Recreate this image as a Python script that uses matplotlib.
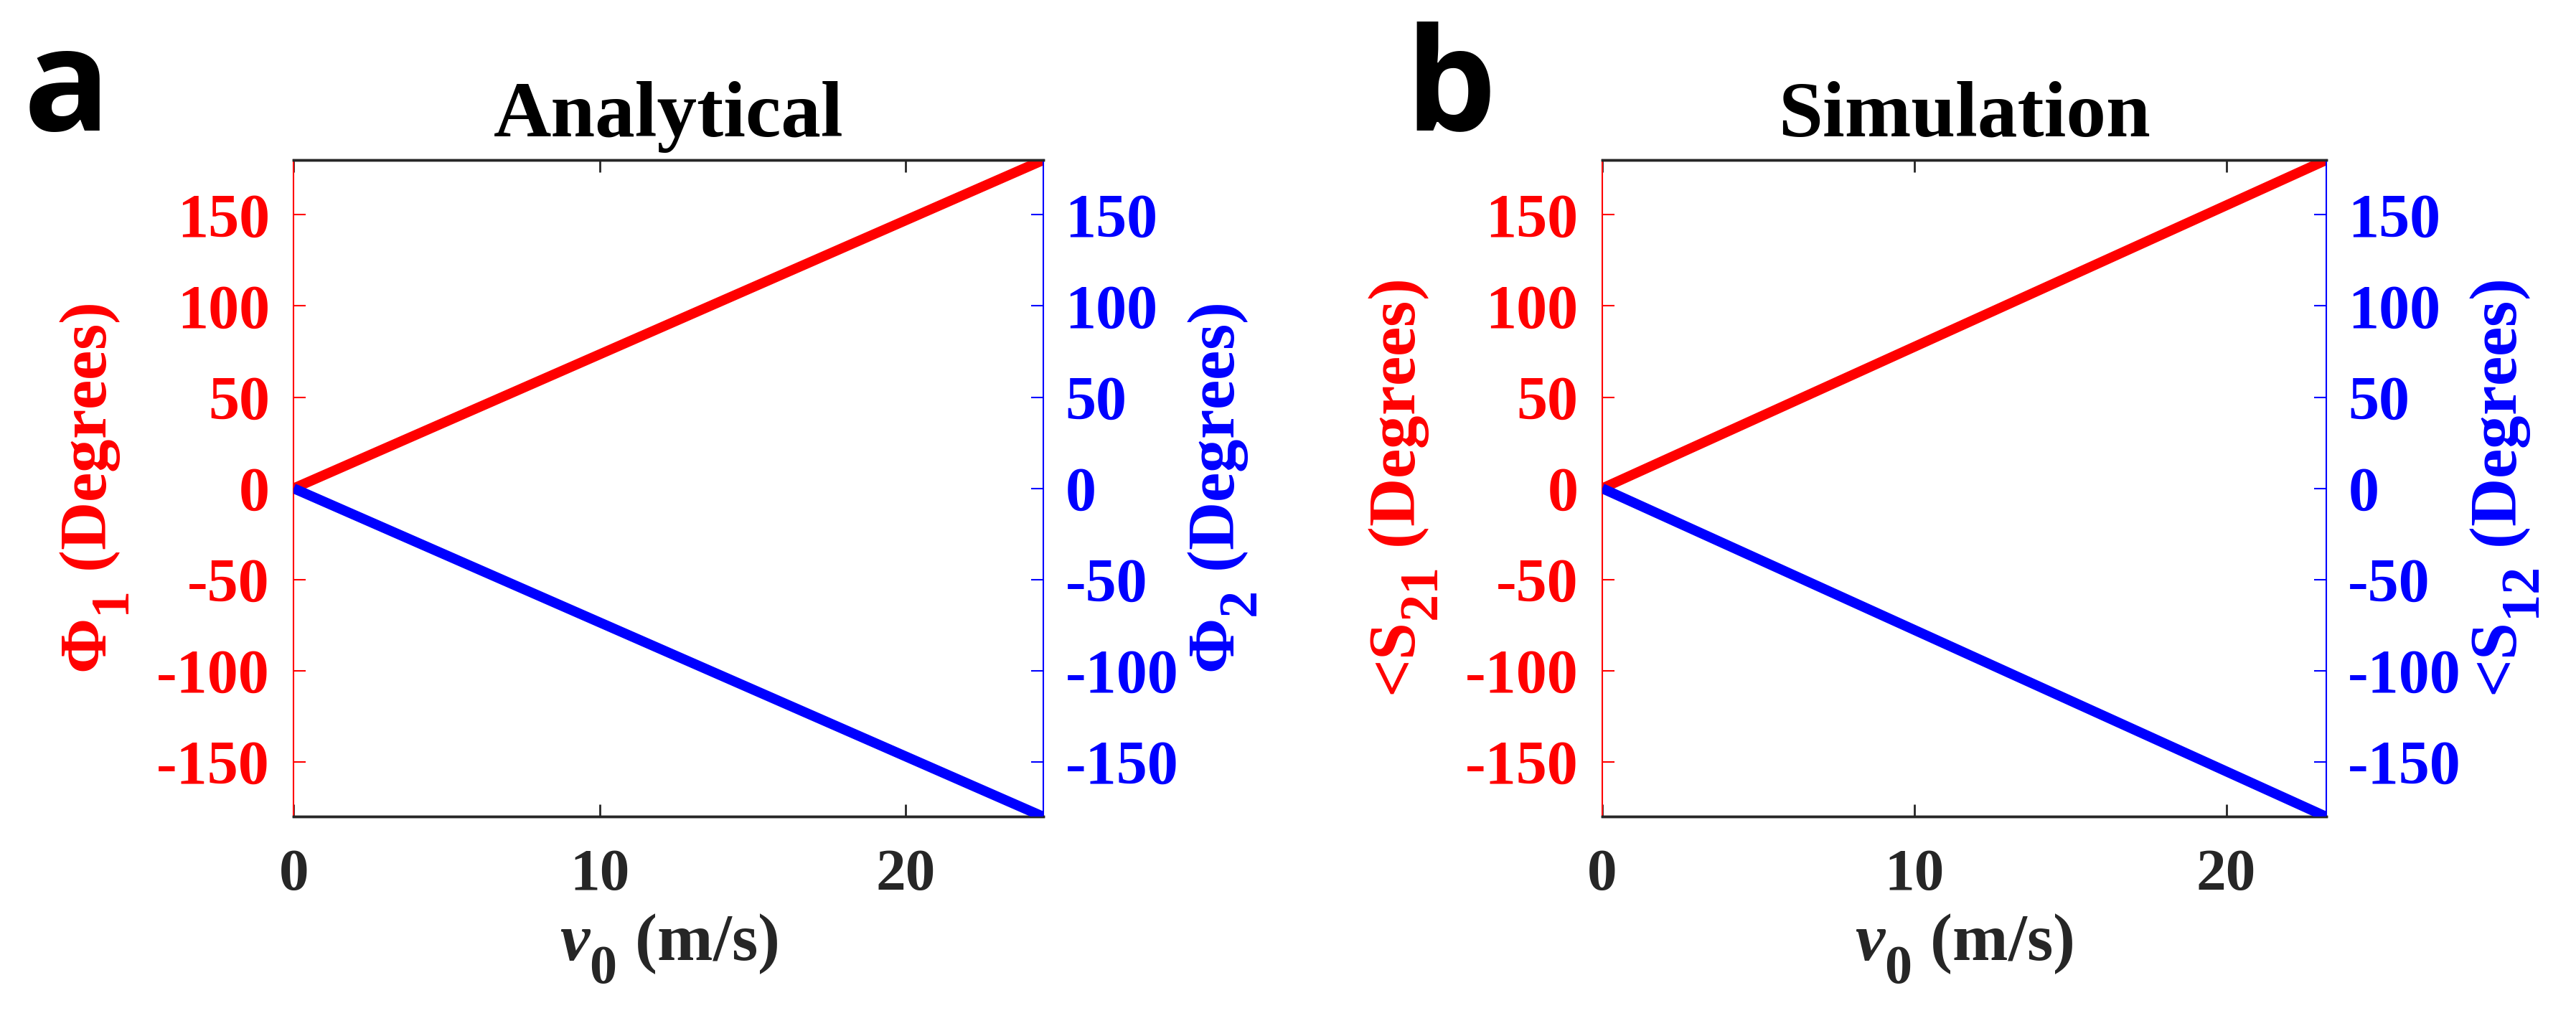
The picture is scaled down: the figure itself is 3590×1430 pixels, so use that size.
import matplotlib
matplotlib.use("Agg")
import matplotlib.pyplot as plt

try:
    import matplotlib._mathtext as _mt
    _mt.SHRINK_FACTOR = 0.82
    _mt.FontConstantsBase.sub1 = 0.75
    _mt.FontConstantsBase.sub2 = 0.9
except Exception:
    pass

# ---- data ----
v0_analytical = [0.0, 24.5]
phi1 = [0.0, 180.0]
phi2 = [0.0, -180.0]

v0_simulation = [0.0, 23.2]
s21 = [0.0, 180.0]
s12 = [0.0, -180.0]

yticks = [-150, -100, -50, 0, 50, 100, 150]
xticks = [0, 10, 20]
titles = ["Analytical", "Simulation"]
panel_letters = ["a", "b"]
left_labels = [r"$\Phi_1$ (Degrees)", r"<$\mathrm{S}_{21}$ (Degrees)"]
right_labels = [r"$\Phi_2$ (Degrees)", r"<$\mathrm{S}_{12}$ (Degrees)"]
xlabel = r"$\nu_0$ (m/s)"

plt.rcParams["font.family"] = "Liberation Serif"
plt.rcParams["font.weight"] = "bold"
plt.rcParams["axes.unicode_minus"] = False
plt.rcParams["mathtext.fontset"] = "custom"
plt.rcParams["mathtext.rm"] = "Liberation Serif:bold"
plt.rcParams["mathtext.bf"] = "Liberation Serif:bold"
plt.rcParams["mathtext.it"] = "Liberation Serif:italic:bold"

fig = plt.figure(figsize=(35.9, 14.3), dpi=100)

RED = "#FF0000"
BLUE = "#0000FF"
TXT = "#262626"

positions = [[0.114, 0.204, 0.291, 0.640], [0.622, 0.204, 0.281, 0.640]]
xs = [v0_analytical, v0_simulation]
reds = [phi1, s21]
blues = [phi2, s12]
letter_x = [0.009, 0.5455]

XTICK_FS = 60
YTICK_FS = 62
LABEL_FS = 67
TITLE_FS = 80

for i in range(2):
    ax = fig.add_axes(positions[i])
    ax2 = ax.twinx()
    ax.plot(xs[i], reds[i], color=RED, lw=10, solid_capstyle="butt", zorder=3)
    ax2.plot(xs[i], blues[i], color=BLUE, lw=10, solid_capstyle="butt", zorder=3)
    for a in (ax, ax2):
        a.set_xlim(0, xs[i][-1])
        a.set_ylim(-180, 180)
        a.set_yticks(yticks)
    ax.set_xticks(xticks)
    ax.tick_params(axis="x", direction="in", top=True, length=12, width=2,
                   colors=TXT, labelsize=XTICK_FS, pad=32)
    ax.tick_params(axis="y", direction="in", length=12, width=1.5,
                   colors=RED, labelsize=YTICK_FS, pad=24)
    ax2.tick_params(axis="y", direction="in", length=12, width=1.5,
                    colors=BLUE, labelsize=YTICK_FS, pad=22)
    for lab in ax.get_xticklabels() + ax.get_yticklabels() + ax2.get_yticklabels():
        lab.set_fontweight("bold")
    ax.spines["left"].set_color(RED)
    ax.spines["left"].set_linewidth(1.5)
    ax.spines["right"].set_visible(False)
    ax2.spines["left"].set_visible(False)
    ax2.spines["right"].set_color(BLUE)
    ax2.spines["right"].set_linewidth(1.5)
    for a in (ax, ax2):
        a.spines["top"].set_color(TXT)
        a.spines["bottom"].set_color(TXT)
        a.spines["top"].set_linewidth(2.5)
        a.spines["bottom"].set_linewidth(2.5)
    ax.set_ylabel(left_labels[i], color=RED, fontsize=LABEL_FS, fontweight="bold", labelpad=25)
    ax2.set_ylabel(right_labels[i], color=BLUE, fontsize=LABEL_FS, fontweight="bold", labelpad=8)
    ax.set_xlabel(xlabel, color=TXT, fontsize=LABEL_FS, fontweight="bold", labelpad=10)
    ax.set_title(titles[i], fontsize=TITLE_FS, fontweight="bold", color="black", pad=24)
    fig.text(letter_x[i], 0.873, panel_letters[i], fontsize=144, fontweight="bold",
             family="Open Sans", color="black", ha="left", va="baseline")

fig.savefig("out.png", dpi=100, facecolor="white")
